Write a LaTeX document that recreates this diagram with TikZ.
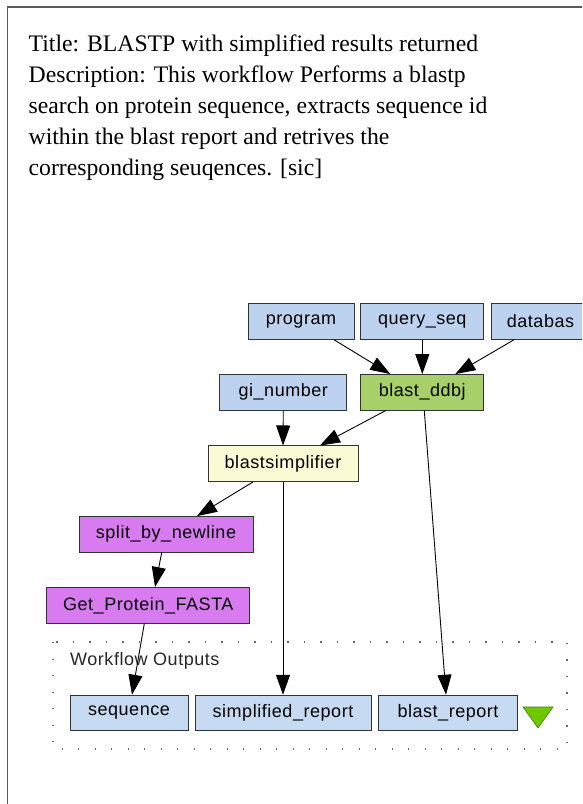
\documentclass[tikz,border=0pt]{standalone}
\usepackage{fontspec}
\setmainfont{Liberation Serif}
\newfontfamily\nodefont[LetterSpace=3]{Liberation Sans}
\usetikzlibrary{arrows.meta,calc}
\definecolor{inblue}{HTML}{BCD2EE}
\definecolor{outblue}{HTML}{C6DAF2}
\definecolor{ddbjgreen}{HTML}{A7D06A}
\definecolor{simplyellow}{HTML}{FAFAD4}
\definecolor{beanpurple}{HTML}{D97BF0}
\definecolor{trigreen}{HTML}{6EC800}
\begin{document}
\begin{tikzpicture}[x=1pt,y=1pt,
  wbox/.style={draw=black!80, line width=1pt, minimum height=35.5pt, inner sep=0pt,
    font=\nodefont\fontsize{18}{20}\selectfont},
  inbox/.style={wbox, fill=inblue},
  outbox/.style={wbox, fill=outblue},
  procbox/.style={wbox, fill=beanpurple},
  conn/.style={line width=0.9pt, -{Triangle[length=20pt,width=14pt]}},
  titleline/.style={anchor=base west, inner sep=0pt, font=\fontsize{23.7}{30}\selectfont},
  ]
\useasboundingbox (0,0) rectangle (582,-804);
\clip (0,0) rectangle (582,-804);
\draw[line width=1.3pt, black!65] (7.5,-830) -- (7.5,-7) -- (610,-7);

% title text
\node[titleline] (t1) at (28.5,-51) {Title: BLASTP with simplified results returned};
\node[titleline] (t2) at (28.5,-82) {Description: This workflow Performs a blastp};
\node[titleline] (t3) at (28.5,-113) {search on protein sequence, extracts sequence id};
\node[titleline] (t4) at (28.5,-144) {within the blast report and retrives the};
\node[titleline] (t5) at (28.5,-175) {corresponding seuqences. [sic]};

% workflow outputs group
\draw[black!60, line width=1.3pt, dash pattern=on 1.3pt off 15.2pt] (53,-642) rectangle (567,-749);
\node[anchor=base west, inner sep=0pt, font=\nodefont\fontsize{18}{20}\selectfont, text=black!85] (wolabel) at (70,-665) {Workflow Outputs};

% inputs
\node[inbox, minimum width=106pt] (program) at (301,-321.5) {program};
\node[inbox, minimum width=123pt] (query) at (422.3,-321.5) {query\_seq};
\node[inbox, minimum width=109pt] (database) at (545.5,-321.5) {databas\phantom{e}};
\node[inbox, minimum width=127pt] (gi) at (283.3,-392.3) {gi\_number};

% processors
\node[wbox, fill=ddbjgreen, minimum width=123pt] (blast) at (422.3,-392.3) {blast\_ddbj};
\node[wbox, fill=simplyellow, minimum width=150pt] (simpl) at (283,-463.7) {blastsimplifier};
\node[procbox, minimum width=174pt] (split) at (166,-534.3) {split\_by\_newline};
\node[procbox, minimum width=203pt] (getp) at (148.3,-605.3) {Get\_Protein\_FASTA};

% outputs
\node[outbox, minimum width=118pt] (sequence) at (129,-713) {sequence};
\node[outbox, minimum width=176pt] (sreport) at (283,-713) {simplified\_report};
\node[outbox, minimum width=139pt] (breport) at (448,-713) {blast\_report};
\fill[trigreen, draw=trigreen!60!black, line width=0.6pt] (523,-707) -- (553,-707) -- (538,-728) -- cycle;

% connectors
\draw[conn] ($(program.south)+(33,0)$) -- ($(blast.north)+(-32,0)$);
\draw[conn] (query.south) -- (blast.north);
\draw[conn] ($(database.south)+(-31.5,0)$) -- ($(blast.north)+(33,0)$);
\draw[conn] (gi.south) -- (simpl.north);
\draw[conn] ($(blast.south)+(-36.6,0)$) -- ($(simpl.north)+(37,0)$);
\draw[conn] ($(blast.south)+(2,0)$) -- ($(breport.north)+(-2,0)$);
\draw[conn] (simpl.south) -- (sreport.north);
\draw[conn] ($(simpl.south)+(-30,0)$) -- ($(split.north)+(31,0)$);
\draw[conn] ($(split.south)+(-4.3,0)$) -- ($(getp.north)+(6.7,0)$);
\draw[conn] ($(getp.south)+(-4,0)$) -- ($(sequence.north)+(3,0)$);
\end{tikzpicture}
\end{document}
